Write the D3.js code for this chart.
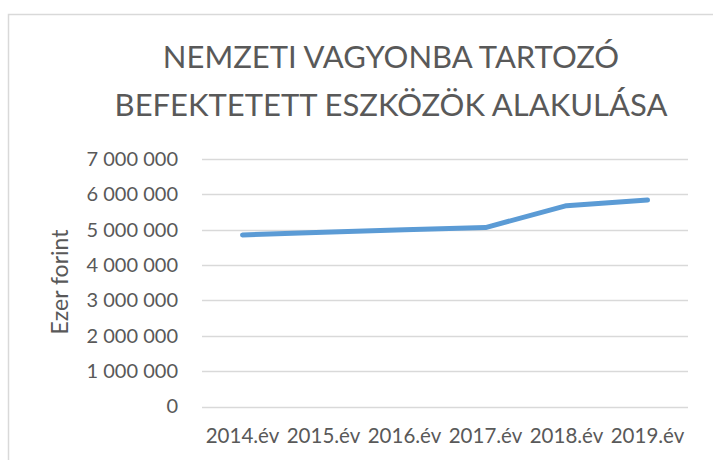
<!DOCTYPE html>
<html>
<head>
<meta charset="utf-8">
<script src="https://cdn.jsdelivr.net/npm/d3@7"></script>
<style>
  body { margin: 0; background: #fff; }
  text { font-family: Lato, "Open Sans", sans-serif; fill: #595959; }
</style>
</head>
<body>
<svg id="chart" width="713" height="460"></svg>
<script>
// data
var years = ['2014.év', '2015.év', '2016.év', '2017.év', '2018.év', '2019.év'];
var values = [4850000, 4930000, 5000000, 5060000, 5680000, 5840000];
var yTicks = [0, 1000000, 2000000, 3000000, 4000000, 5000000, 6000000, 7000000];
var titleLines = ['NEMZETI VAGYONBA TARTOZÓ', 'BEFEKTETETT ESZKÖZÖK ALAKULÁSA'];
var yTitle = 'Ezer forint';

var svg = d3.select('#chart');

// chart frame (cropped on the right and bottom)
svg.append('rect')
  .attr('x', 8.5).attr('y', 14.5)
  .attr('width', 720).attr('height', 460)
  .attr('fill', 'none').attr('stroke', '#d9d9d9').attr('stroke-width', 1.5);

var plotL = 202, plotR = 688, plotT = 159, plotB = 406.5;

var x = d3.scaleBand().domain(years).range([plotL, plotR]);
var y = d3.scaleLinear().domain([0, 7000000]).range([plotB, plotT]);

var fmt = function(d) { return d3.format(',')(d).replace(/,/g, ' '); };

// gridlines
svg.append('g').selectAll('line').data(yTicks).join('line')
  .attr('x1', plotL).attr('x2', plotR)
  .attr('y1', function(d) { return Math.round(y(d)) + 0.5; })
  .attr('y2', function(d) { return Math.round(y(d)) + 0.5; })
  .attr('stroke', '#d9d9d9').attr('stroke-width', 1.5);

// y axis labels
var yAxis = svg.append('g').attr('transform', 'translate(' + (plotL - 24) + ',0)')
  .call(d3.axisLeft(y).tickValues(yTicks).tickFormat(fmt).tickSize(0).tickPadding(0));
yAxis.select('.domain').remove();
yAxis.selectAll('text').style('font-size', '20px').attr('fill', '#595959')
  .style('font-family', 'Lato, sans-serif');

// x axis labels
var xAxis = svg.append('g').attr('transform', 'translate(0,' + plotB + ')')
  .call(d3.axisBottom(x).tickSize(0).tickPadding(22));
xAxis.select('.domain').remove();
xAxis.selectAll('text').style('font-size', '20.5px').attr('fill', '#595959')
  .style('font-family', 'Lato, sans-serif');

// y axis title
svg.append('text')
  .attr('transform', 'translate(68,282) rotate(-90)')
  .attr('text-anchor', 'middle')
  .style('font-size', '23px')
  .text(yTitle);

// title
svg.append('g').selectAll('text').data(titleLines).join('text')
  .attr('x', 391)
  .attr('y', function(d, i) { return 68 + i * 48; })
  .attr('text-anchor', 'middle')
  .style('font-size', '31px')
  .text(function(d) { return d; });

// series line
var line = d3.line()
  .x(function(d, i) { return x(years[i]) + x.bandwidth() / 2; })
  .y(function(d) { return y(d); });

svg.append('path')
  .datum(values)
  .attr('d', line)
  .attr('fill', 'none')
  .attr('stroke', '#5b9bd5')
  .attr('stroke-width', 5)
  .attr('stroke-linecap', 'round')
  .attr('stroke-linejoin', 'round');
</script>
</body>
</html>
